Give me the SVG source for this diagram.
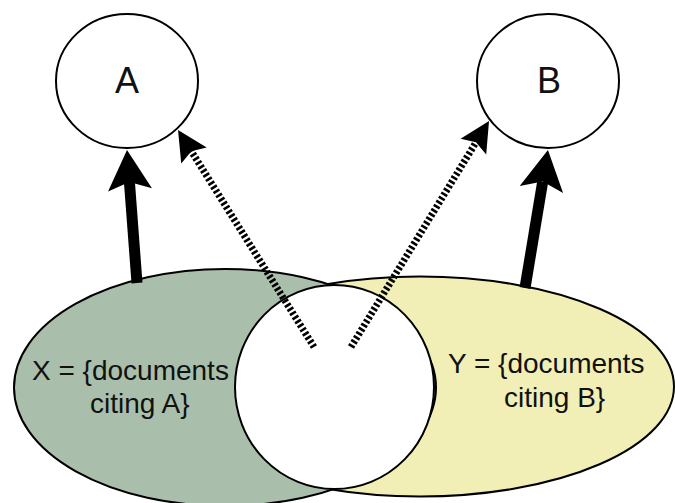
<svg xmlns="http://www.w3.org/2000/svg" width="675" height="503" viewBox="0 0 675 503">
  <style>
    .node { stroke: #000; stroke-width: 2; }
    .lbl { font-family: "Liberation Sans", Arial, sans-serif; fill: #111; }
    .big { font-size: 36px; text-anchor: middle; }
    .set { font-size: 28px; }
    .thick { stroke: #000; stroke-width: 11; fill: none; marker-end: url(#headBig); }
    .dash { stroke: #000; stroke-width: 7; stroke-dasharray: 2.6 2.2; fill: none; marker-end: url(#headSmall); }
  </style>
  <defs>
    <marker id="headBig" viewBox="-2 -24 44 48" refX="8" refY="0" markerWidth="44" markerHeight="48" markerUnits="userSpaceOnUse" orient="auto">
      <path d="M40,0 L0,-22 L8,0 L0,22 Z" fill="#000"/>
    </marker>
    <marker id="headSmall" viewBox="-2 -17 34 34" refX="5" refY="0" markerWidth="34" markerHeight="34" markerUnits="userSpaceOnUse" orient="auto">
      <path d="M30,0 L0,-15 L5,0 L0,15 Z" fill="#000"/>
    </marker>
  </defs>

  <g id="setY">
    <ellipse class="node" cx="420" cy="386.5" rx="254" ry="110" fill="#f1efb6"/>
  </g>
  <g id="setX">
    <ellipse class="node" cx="225" cy="387.5" rx="211" ry="118.5" fill="#aabfab"/>
  </g>
  <g id="intersection">
    <ellipse class="node" cx="334.5" cy="387" rx="99.5" ry="102" fill="#fff"/>
  </g>
  <g id="labelX">
    <text class="lbl set" x="32" y="380">X = {documents</text>
    <text class="lbl set" x="90" y="413">citing A}</text>
  </g>
  <g id="labelY">
    <text class="lbl set" x="448" y="373">Y = {documents</text>
    <text class="lbl set" x="504" y="407">citing B}</text>
  </g>
  <g id="nodeA">
    <ellipse class="node" cx="127" cy="81" rx="71" ry="67" fill="#fff"/>
    <text class="lbl big" x="127" y="93">A</text>
  </g>
  <g id="nodeB">
    <ellipse class="node" cx="548" cy="81" rx="71" ry="67" fill="#fff"/>
    <text class="lbl big" x="549" y="93">B</text>
  </g>

  <g id="connectors">
    <path class="thick" d="M137,283 L129.4,181.9"/>
    <path class="thick" d="M525,288 L542.7,181.6"/>
    <path class="dash" d="M314,347 L191.3,151.2"/>
    <path class="dash" d="M351,347 L476,142.3"/>
  </g>
</svg>
